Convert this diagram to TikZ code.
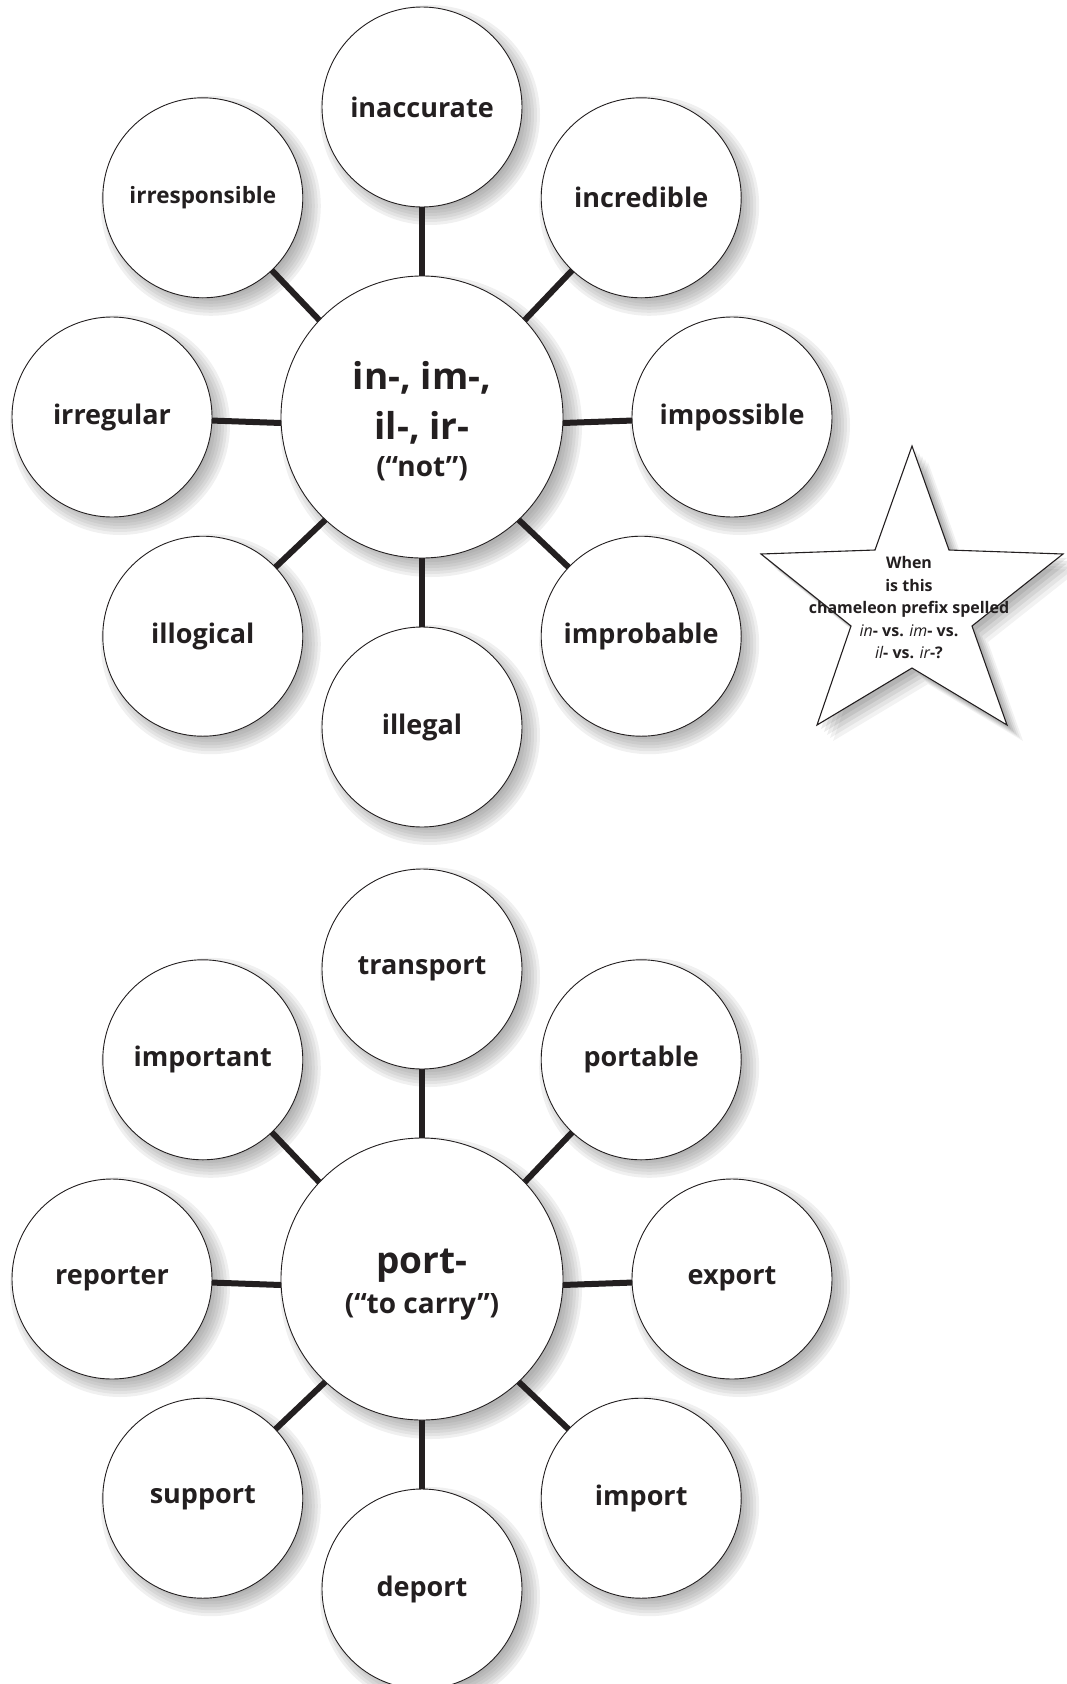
\documentclass[tikz,border=0pt]{standalone}
\usepackage{fontspec}
\setmainfont{Open Sans}
\usetikzlibrary{shadows,calc}
\definecolor{WordInk}{HTML}{231F20}
\definecolor{WordShade}{HTML}{6E6E6E}

\begin{document}
\begin{tikzpicture}[
    x=1pt, y=-1pt,
    text=WordInk,
    hub/.style={
        circle,
        draw=WordInk,
        line width=0.9pt,
        fill=white,
        minimum size=282pt,
        inner sep=0pt,
        align=center,
        font=\fontsize{37}{50}\selectfont\bfseries
    },
    word/.style={hub, minimum size=200pt},
    spoke/.style={draw=WordInk, line width=6pt},
    shade ring/.style={fill=WordShade, opacity=.1},
    star edge/.style={draw=WordInk, line width=1.1pt, fill=white,
        line join=miter},
    star shadow/.style={
        drop shadow={shadow xshift=4pt, shadow yshift=-4pt,
                     opacity=.08, fill=black},
        drop shadow={shadow xshift=7pt, shadow yshift=-7pt,
                     opacity=.08, fill=black},
        drop shadow={shadow xshift=10pt, shadow yshift=-10pt,
                     opacity=.07, fill=black},
        drop shadow={shadow xshift=13pt, shadow yshift=-13pt,
                     opacity=.06, fill=black},
        drop shadow={shadow xshift=16pt, shadow yshift=-16pt,
                     opacity=.05, fill=black}},
    star text/.style={align=center, font=\fontsize{16}{22.5}\selectfont\bfseries}
]
    \useasboundingbox (0,0) rectangle (1067,1684);

    % where the circles sit
    \coordinate (not-pos) at (422,417);
    \coordinate (port-pos) at (422,1279);
    \coordinate (nothub) at (422,428);
    \coordinate (porthub) at (422,1290);
    \foreach \w/\a in {inaccurate/90, incredible/45, impossible/0,
            improbable/-45, illegal/-90, illogical/-135, irregular/180,
            irresponsible/135} {
        \coordinate (\w-pos) at ($(not-pos)+(\a:310pt)$);
    }
    \foreach \w/\a in {transport/90, portable/45, export/0, import/-45,
            deport/-90, support/-135, reporter/180, important/135} {
        \coordinate (\w-pos) at ($(port-pos)+(\a:310pt)$);
    }

    % soft shadows
    \foreach \w in {not,port} {
        \foreach \g in {0,...,6}
            \fill[shade ring] ([shift={(9pt,-9pt)}]\w-pos)
                circle[radius=133pt+3pt*\g];
    }
    \foreach \w in {inaccurate,incredible,impossible,improbable,
            illegal,illogical,irregular,irresponsible,
            transport,portable,export,import,deport,support,
            reporter,important} {
        \foreach \g in {0,...,6}
            \fill[shade ring] ([shift={(8pt,-8pt)}]\w-pos)
                circle[radius=92pt+3pt*\g];
    }

    % spokes
    \foreach \w in {inaccurate,incredible,impossible,improbable,
            illegal,illogical,irregular,irresponsible} {
        \draw[spoke] (nothub) -- (\w-pos);
    }
    \foreach \w in {transport,portable,export,import,deport,support,
            reporter,important} {
        \draw[spoke] (porthub) -- (\w-pos);
    }

    % "not" cluster
    \node[hub] (notc) at (not-pos)
        {\rule{0pt}{36pt}in-, im-,\\ il-, ir-\\[-13pt]
         {\fontsize{28}{37}\selectfont (“not”)}};
    \foreach \w/\sz in {inaccurate/27, incredible/27, impossible/27,
            improbable/27, illegal/27, illogical/27, irregular/27,
            irresponsible/22.5} {
        \node[word, font=\fontsize{\sz}{\sz}\selectfont\bfseries]
            (\w) at (\w-pos) {\w};
    }

    % "carry" cluster
    \node[hub] (portc) at (port-pos)
        {\rule{0pt}{36pt}port-\\[-10pt]
         {\fontsize{28}{37}\selectfont (“to carry”)}};
    \foreach \w in {transport,portable,export,import,deport,support,
            reporter,important} {
        \node[word, font=\fontsize{27}{27}\selectfont\bfseries]
            (\w) at (\w-pos) {\w};
    }

    % question star
    \draw[star edge, star shadow] (912,446) -- (949,550) -- (1063,554)
        -- (972,626) -- (1007,725) -- (912,668) -- (817,725)
        -- (851,626) -- (761,554) -- (875,550) -- cycle;
    \node[star text] (question) at (909,608)
        {When\\ is this\\ chameleon prefix spelled\\
         {\mdseries\itshape in}- vs. {\mdseries\itshape im}- vs.\\
         {\mdseries\itshape il}- vs. {\mdseries\itshape ir}-?};
\end{tikzpicture}
\end{document}
